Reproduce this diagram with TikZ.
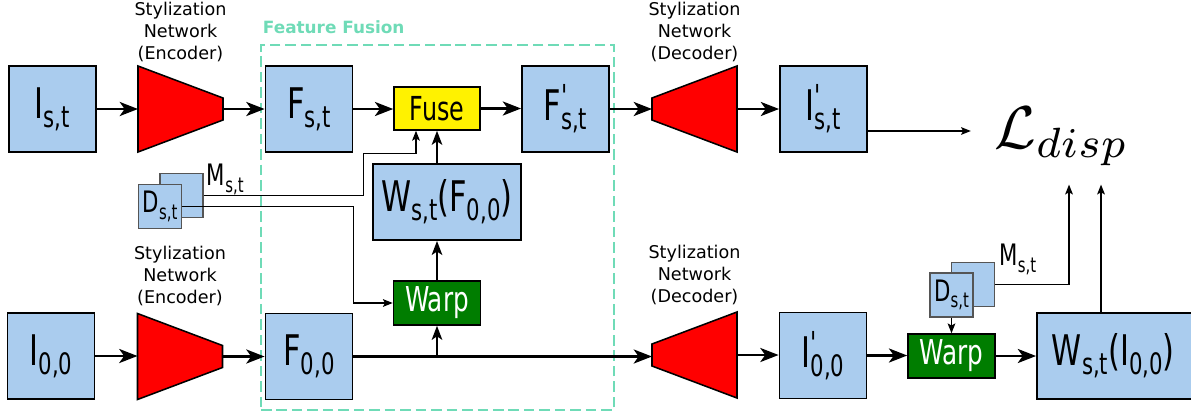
\documentclass[tikz,border=0pt]{standalone}
\usepackage{fontspec}
\setmainfont{DejaVu Sans}
\newfontfamily\narrowfont[FakeStretch=0.72]{DejaVu Sans}
\usetikzlibrary{calc, positioning, arrows.meta}

\definecolor{featblue}{RGB}{170,204,238}
\definecolor{warpgreen}{RGB}{0,125,0}
\definecolor{fusionteal}{RGB}{111,219,183}
\definecolor{mapgray}{RGB}{85,85,85}

\newcommand{\sbs}[2]{#1\raisebox{-0.22em}{\scalebox{0.7}{#2}}}
\newcommand{\prm}[2]{#1\rlap{\raisebox{0.3em}{\scalebox{0.75}{\textquotesingle}}}\raisebox{-0.22em}{\scalebox{0.7}{#2}}}

\tikzset{
  feat/.style={draw, fill=featblue, line width=1.3pt, inner sep=0pt, minimum width=2.175cm, minimum height=2.15cm, font=\narrowfont\fontsize{30}{36}\selectfont},
  net/.style={inner sep=0pt, outer sep=0pt, minimum width=2.125cm, minimum height=2.15cm},
  netbody/.style={draw, fill=red, line width=1.1pt, line join=miter},
  nettext/.style={align=center, inner sep=0pt, font=\fontsize{12.5}{15.6}\selectfont},
  fusebox/.style={draw, fill=yellow, line width=1.1pt, inner sep=0pt, minimum width=2.15cm, minimum height=1.075cm, font=\narrowfont\fontsize{23.5}{28}\selectfont},
  warpbox/.style={draw, fill=warpgreen, text=white, line width=1.1pt, inner sep=0pt, minimum width=2.175cm, minimum height=1.1cm, font=\narrowfont\fontsize{24.4}{29}\selectfont},
  mapbox/.style={draw=mapgray, fill=featblue, line width=0.9pt, inner sep=0pt, minimum width=1.075cm, minimum height=1.1cm, font=\narrowfont\fontsize{21}{25}\selectfont},
  maplabel/.style={anchor=base west, inner sep=0pt, font=\narrowfont\fontsize{21}{25}\selectfont},
  big/.style={line width=1.8pt, -{Stealth[length=13pt, width=10pt, inset=3.5pt]}},
  flow/.style={line width=1.4pt, -{Stealth[length=10pt, width=7.5pt, inset=2.5pt]}},
  link/.style={line width=0.9pt, -{Stealth[length=7pt, width=5.5pt, inset=1.5pt]}},
}

\begin{document}
\begin{tikzpicture}[x=0.025cm, y=-0.025cm]
\useasboundingbox (0,0) rectangle (1191,416);

% feature fusion frame
\node[draw=fusionteal, dash pattern=on 7.5pt off 3.5pt, line width=1.8pt, inner sep=0pt, minimum width=8.825cm, minimum height=9.125cm] (fusion) at (437.5,227.5) {};
\node[anchor=base west, inner sep=0pt, text=fusionteal, font=\bfseries\fontsize{12}{14}\selectfont] (fusionlab) at ($(fusion.north west)+(3,-10)$) {Feature Fusion};

% top row
\node[feat] (Ist) at (52.5,109) {\sbs{I}{s,t}};
\node[net] (enc1) at (180.5,109) {};
\node[feat] (Fst) at (309,109) {\sbs{F}{s,t}};
\node[fusebox] (fuse) at (437,108.5) {Fuse};
\node[feat] (Fpst) at (565.5,109) {\prm{F}{s,t}};
\node[net] (dec1) at (694.5,109) {};
\node[feat] (Ipst) at (823.5,109) {\prm{I}{s,t}};
\node[inner sep=0pt] (Ldisp) at (1061.5,136) {\scalebox{4.3}{$\mathcal{L}_{disp}$}};

% middle
\node[feat, minimum width=3.7cm, minimum height=1.9cm] (WF) at (447,202) {\sbs{W}{s,t}(\sbs{F}{0,0})};
\node[mapbox] (M1) at (181.5,195.5) {};
\node[mapbox] (D1) at (160,206.5) {\sbs{D}{s,t}};
\node[maplabel] (M1lab) at ($(M1.north east)+(3,13)$) {\sbs{M}{s,t}};
\node[warpbox] (warp1) at (437,303) {Warp};

% bottom row
\node[feat] (I00) at (51,356) {\sbs{I}{0,0}};
\node[net] (enc2) at (180,356.5) {};
\node[feat] (F00) at (309,356.5) {\sbs{F}{0,0}};
\node[net] (dec2) at (694.5,355) {};
\node[feat] (Ip00) at (823,355.5) {\prm{I}{0,0}};
\node[warpbox] (warp2) at (951.5,356) {Warp};
\node[mapbox] (M2) at (973,284.5) {};
\node[mapbox] (D2) at (951.5,295) {\sbs{D}{s,t}};
\node[maplabel] (M2lab) at ($(M2.north east)+(4,4)$) {\sbs{M}{s,t}};
\node[feat, minimum width=3.95cm, text width=3.2cm, align=left, inner xsep=0.375cm] (WI) at (1116,356) {\sbs{W}{s,t}(\sbs{I}{0,0})};

% stylization networks
\foreach \n in {enc1, enc2}
  \draw[netbody] (\n.north west) -- (\n.south west) -- ($(\n.east)+(0,11)$) -- ($(\n.east)+(0,-11)$) -- cycle;
\foreach \n in {dec1, dec2}
  \draw[netbody] (\n.north east) -- (\n.south east) -- ($(\n.west)+(0,11)$) -- ($(\n.west)+(0,-11)$) -- cycle;

\node[nettext, above=3pt of enc1] (enc1txt) {Stylization\\Network\\(Encoder)};
\node[nettext, above=3pt of dec1] (dec1txt) {Stylization\\Network\\(Decoder)};
\node[nettext, above=5pt of enc2] (enc2txt) {Stylization\\Network\\(Encoder)};
\node[nettext, above=5pt of dec2] (dec2txt) {Stylization\\Network\\(Decoder)};

% connectors
\draw[big] (Ist.east) -- (enc1.west);
\draw[big] (enc1.east) -- (Fst.west);
\draw[big] (Fst.east) -- (Fst.east -| fuse.west);
\draw[big] (fuse.east) -- (fuse.east -| Fpst.west);
\draw[big] (Fpst.east) -- (dec1.west);
\draw[big] (dec1.east) -- (Ipst.west);
\coordinate (Lin) at ($(Ldisp.west)+(-23,-5)$);
\draw[link] ($(Ipst.east)+(0,22)$) -- (Lin);

\draw[flow] (WF.north -| fuse.south) -- (fuse.south);
\draw[link] (M1.east) -- ++(160,0) |- ($(fuse.south)+(-21,23)$) -- ($(fuse.south)+(-21,0)$);
\draw[link] (D1.east) -- ++(171,0) |- (warp1.west);

\draw[big] (I00.east) -- (I00.east -| enc2.west);
\draw[big] (enc2.east) -- (enc2.east -| F00.west);
\draw[big] (F00.east) -- (F00.east -| dec2.west);
\draw[flow] (F00.east -| warp1.south) -- (warp1.south);
\draw[flow] (warp1.north) -- (warp1.north |- WF.south);
\draw[big] (dec2.east) -- (dec2.east -| Ip00.west);
\draw[big] (Ip00.east) -- (Ip00.east -| warp2.west);
\draw[big] (warp2.east) -- (warp2.east -| WI.west);
\draw[link] (D2.south) -- (warp2.north);

\coordinate (La) at ($(Ldisp.south)+(7.5,19)$);
\coordinate (Lb) at ($(Ldisp.south)+(39.5,19)$);
\draw[link] (M2.east) -| (La);
\draw[link] (WI.north -| Lb) -- (Lb);
\end{tikzpicture}
\end{document}
